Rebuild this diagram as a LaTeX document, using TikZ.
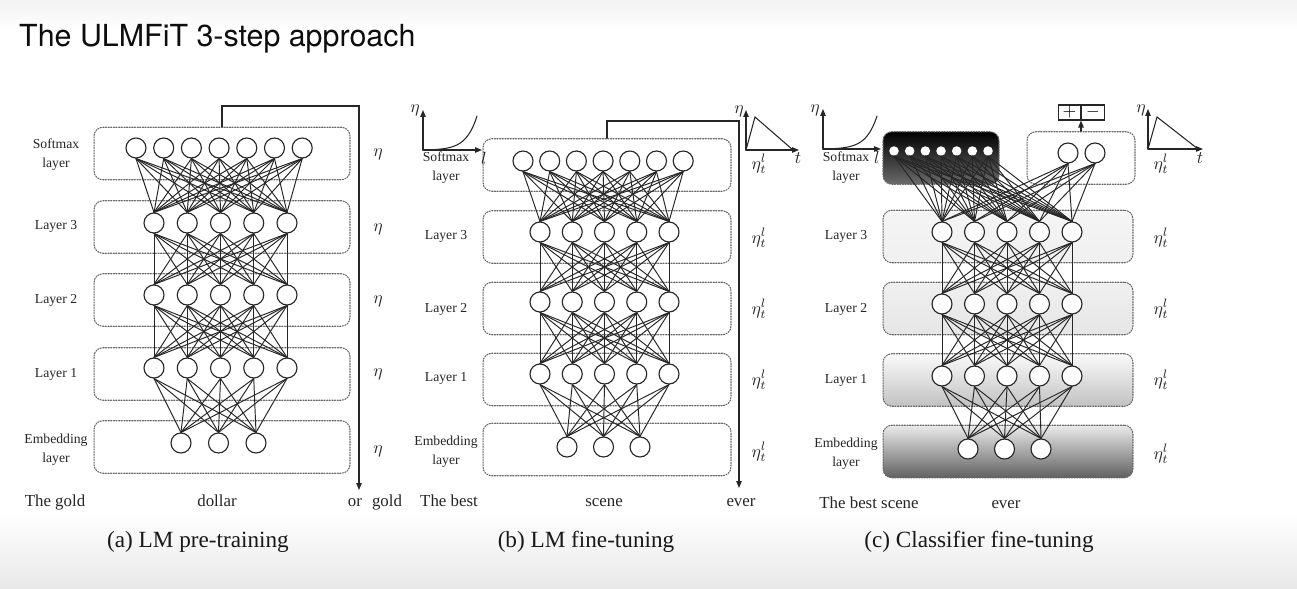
\documentclass[tikz,border=0pt]{standalone}
\usepackage{fontspec}
\setmainfont{Liberation Serif}
\newfontfamily\titlefont{TeX Gyre Heros}
\usepackage{tikz}
\usetikzlibrary{arrows.meta}
\usepackage{xcolor}

\tikzset{
  neuron/.style={circle,draw=black!85,line width=0.65pt,fill=white,minimum size=0.4cm,inner sep=0pt},
  tinydot/.style={circle,fill=white,minimum size=0.19cm,inner sep=0pt},
  wire/.style={black!85,line width=0.55pt},
  layerbox/.style={draw=black!60,line width=0.6pt,dash pattern=on 0.7pt off 0.8pt,rounded corners=5pt,minimum height=1.05cm,inner sep=0pt},
  lbl/.style={font=\fontsize{7.8}{10.8}\selectfont,align=center,text=black!85},
  word/.style={font=\fontsize{9.6}{11}\selectfont,anchor=base,text=black!85},
  lr/.style={font=\fontsize{9.8}{11}\selectfont,text=black!85},
  capt/.style={font=\fontsize{13.2}{15}\selectfont,anchor=base,text=black!90},
  arr/.style={-{Triangle[length=1.4mm,width=1.1mm]},black!85,line width=0.6pt},
  pmbox/.style={draw=black!85,line width=0.6pt,minimum width=0.45cm,minimum height=0.3cm,inner sep=0pt,font=\fontsize{10}{10}\selectfont},
}

\begin{document}
\begin{tikzpicture}[x=0.02cm,y=-0.02cm,line cap=round]
\useasboundingbox (0,0) rectangle (1297,588);
\fill[white] (0,0) rectangle (1297,588);
\shade[top color=black!5,bottom color=white] (0,0) rectangle (1297,30);
\shade[top color=white,bottom color=black!9] (0,512) rectangle (1297,588);

\node[anchor=base west,font=\titlefont\fontsize{17.3}{20}\selectfont,text=black!95] (title) at (13,47) {The ULMFiT 3-step approach};

% ---------- (a) LM pre-training
\foreach \n/\y in {S/153.5,3/227,2/300,1/374,E/447}
  \node[layerbox,minimum width=5.12cm] (a\n box) at (222,\y) {};
\foreach \i in {1,...,7} \node[neuron] (aS\i) at ({136+27.7*(\i-1)},148) {};
\foreach \l/\y in {3/223,2/295,1/368}
  \foreach \i in {1,...,5} \node[neuron] (a\l\i) at ({154+33.25*(\i-1)},\y) {};
\foreach \i in {1,2,3} \node[neuron] (aE\i) at ({181+37.5*(\i-1)},443) {};
\foreach \i in {1,...,7} \foreach \j in {1,...,5} \draw[wire] (aS\i.south) -- (a3\j.north);
\foreach \u/\d in {3/2,2/1} \foreach \i in {1,...,5} \foreach \j in {1,...,5}
  \draw[wire] (a\u\i.south) -- (a\d\j.north);
\foreach \i in {1,...,5} \foreach \j in {1,2,3} \draw[wire] (a1\i.south) -- (aE\j.north);
\coordinate (aTurn) at (359,106);
\coordinate (aOut) at (359,490);
\draw[arr] (aSbox.north) |- (aTurn) -- (aOut);
\node[lbl] (aSl) at (56,154.5) {Softmax\\layer};
\node[lbl] (a3l) at (56,226) {Layer 3};
\node[lbl] (a2l) at (56,300) {Layer 2};
\node[lbl] (a1l) at (56,374) {Layer 1};
\node[lbl] (aEl) at (56,450) {Embedding\\layer};
\foreach \n/\y in {S/154,3/229,2/301,1/374,E/451} \node[lr] (a\n r) at (378,\y) {$\eta$};
\node[word] (aw1) at (55,506) {The gold};
\node[word] (aw2) at (217,506) {dollar};
\node[word] (aw3) at (355,506) {or};
\node[word] (aw4) at (387,506) {gold};
\node[capt] (acap) at (198,547) {(a) LM pre-training};

% ---------- (b) LM fine-tuning
\foreach \n/\y in {S/165,3/237,2/308.5,1/379.5,E/449.5}
  \node[layerbox,minimum width=4.96cm] (b\n box) at (607,\y) {};
\foreach \i in {1,...,7} \node[neuron] (bS\i) at ({523+26.7*(\i-1)},161) {};
\foreach \l/\y in {3/232,2/302,1/374}
  \foreach \i in {1,...,5} \node[neuron] (b\l\i) at ({540+32.25*(\i-1)},\y) {};
\foreach \i in {1,2,3} \node[neuron] (bE\i) at ({567+36.5*(\i-1)},447) {};
\foreach \i in {1,...,7} \foreach \j in {1,...,5} \draw[wire] (bS\i.south) -- (b3\j.north);
\foreach \u/\d in {3/2,2/1} \foreach \i in {1,...,5} \foreach \j in {1,...,5}
  \draw[wire] (b\u\i.south) -- (b\d\j.north);
\foreach \i in {1,...,5} \foreach \j in {1,2,3} \draw[wire] (b1\i.south) -- (bE\j.north);
\coordinate (bTurn) at (739,121);
\coordinate (bOut) at (739,488);
\draw[arr] (bSbox.north) |- (bTurn) -- (bOut);
% discriminative lr graph
\coordinate (bLo) at (423,150);
\draw[arr] (bLo) -- (423,110);
\draw[arr] (bLo) -- (482,150);
\draw[wire,line width=0.6pt] plot[domain=0:1,samples=40] ({423+54*\x},{150-34*(exp(5*\x)-1)/(exp(5)-1)});
\node[lr] (bLeta) at (415,110) {$\eta$};
\node[lr] (bLl) at (484,158) {$l$};
% slanted triangular lr graph
\coordinate (bRo) at (746,150);
\draw[arr] (bRo) -- (746,110);
\draw[arr] (bRo) -- (799,150);
\draw[wire,line width=0.6pt] (bRo) -- (755,117) -- (793,150);
\node[lr] (bReta) at (739,111) {$\eta$};
\node[lr] (bRt) at (798,158) {$t$};
\node[lbl] (bSl) at (446,168) {Softmax\\layer};
\node[lbl] (b3l) at (446,236) {Layer 3};
\node[lbl] (b2l) at (446,309) {Layer 2};
\node[lbl] (b1l) at (446,378) {Layer 1};
\node[lbl] (bEl) at (446,452) {Embedding\\layer};
\foreach \n/\y in {S/164,3/238,2/309,1/380,E/452} \node[lr] (b\n r) at (759,\y) {$\eta^l_t$};
\node[word] (bw1) at (449,506) {The best};
\node[word] (bw2) at (604,506) {scene};
\node[word] (bw3) at (741,506) {ever};
\node[capt] (bcap) at (586,547) {(b) LM fine-tuning};

% ---------- (c) Classifier fine-tuning
\node[layerbox,minimum width=5cm,top color=black!4,bottom color=black!6] (c3box) at (1008,236.5) {};
\node[layerbox,minimum width=5cm,top color=black!6,bottom color=black!10] (c2box) at (1008,308.5) {};
\node[layerbox,minimum width=5cm,top color=black!2,bottom color=black!24] (c1box) at (1008,380) {};
\node[layerbox,minimum width=5cm,top color=black!8,bottom color=black!62] (cEbox) at (1008,451.5) {};
\node[layerbox,minimum width=2.32cm,top color=black,bottom color=black!58] (cSbox) at (941,158) {};
\node[layerbox,minimum width=2.16cm,fill=white] (cCbox) at (1081,158) {};
\foreach \i in {1,...,7} \node[tinydot] (cS\i) at ({894+15.67*(\i-1)},151) {};
\foreach \i in {1,2} \node[neuron] (cC\i) at ({1068+27*(\i-1)},153) {};
\foreach \l/\y in {3/232,2/304,1/376}
  \foreach \i in {1,...,5} \node[neuron] (c\l\i) at ({942+32.5*(\i-1)},\y) {};
\foreach \i in {1,2,3} \node[neuron] (cE\i) at ({968+36.5*(\i-1)},449) {};
\foreach \i in {1,...,7} \foreach \j in {1,...,5} \draw[wire] (cS\i.south) -- (c3\j.north);
\foreach \i in {1,2} \foreach \j in {1,...,5} \draw[wire] (cC\i.south) -- (c3\j.north);
\foreach \u/\d in {3/2,2/1} \foreach \i in {1,...,5} \foreach \j in {1,...,5}
  \draw[wire] (c\u\i.south) -- (c\d\j.north);
\foreach \i in {1,...,5} \foreach \j in {1,2,3} \draw[wire] (c1\i.south) -- (cE\j.north);
\node[pmbox] (cPlus) at (1069.5,112.5) {$+$};
\node[pmbox,anchor=west] (cMinus) at (cPlus.east) {$-$};
\draw[arr] (cCbox.north) -- (cCbox.north |- cPlus.south);
% discriminative lr graph
\coordinate (cLo) at (823,149);
\draw[arr] (cLo) -- (823,109);
\draw[arr] (cLo) -- (881,149);
\draw[wire,line width=0.6pt] plot[domain=0:1,samples=40] ({823+54*\x},{149-33*(exp(5*\x)-1)/(exp(5)-1)});
\node[lr] (cLeta) at (815,110) {$\eta$};
\node[lr] (cLl) at (877,157) {$l$};
% slanted triangular lr graph
\coordinate (cRo) at (1148,149);
\draw[arr] (cRo) -- (1148,109);
\draw[arr] (cRo) -- (1203,149);
\draw[wire,line width=0.6pt] (cRo) -- (1157,117) -- (1198,149);
\node[lr] (cReta) at (1141,110) {$\eta$};
\node[lr] (cRt) at (1200,158) {$t$};
\node[lbl] (cSl) at (846,168) {Softmax\\layer};
\node[lbl] (c3l) at (846,236) {Layer 3};
\node[lbl] (c2l) at (846,309) {Layer 2};
\node[lbl] (c1l) at (846,380) {Layer 1};
\node[lbl] (cEl) at (846,454) {Embedding\\layer};
\foreach \n/\y in {S/164,3/238,2/309,1/380,E/454} \node[lr] (c\n r) at (1161,\y) {$\eta^l_t$};
\node[word] (cw1) at (869,508) {The best scene};
\node[word] (cw2) at (1006,508) {ever};
\node[capt] (ccap) at (979,547) {(c) Classifier fine-tuning};
\end{tikzpicture}
\end{document}
